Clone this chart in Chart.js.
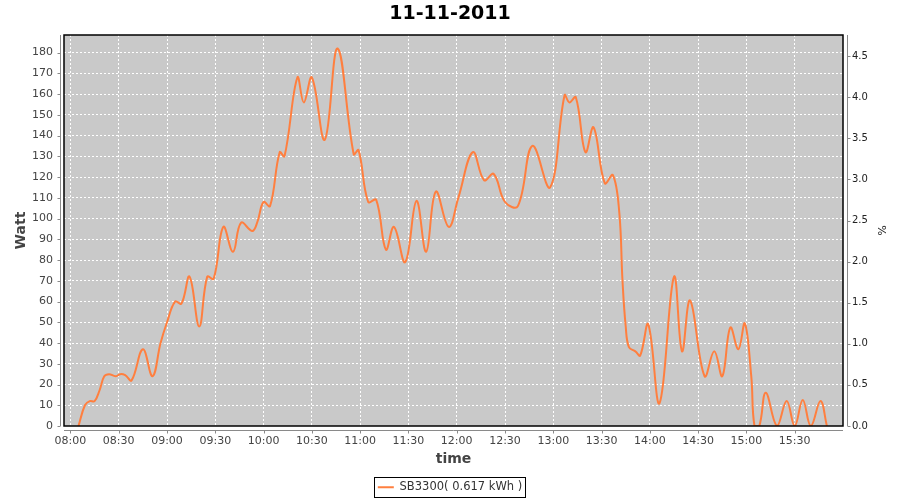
<!DOCTYPE html>
<html>
<head>
<meta charset="utf-8">
<script src="https://cdn.jsdelivr.net/npm/chart.js@4.4.0/dist/chart.umd.min.js"></script>
<style>
  html, body { margin: 0; padding: 0; background: #fff; }
  #wrap { width: 900px; height: 500px; }
</style>
</head>
<body>
<div id="wrap"><canvas id="chart" width="900" height="500"></canvas></div>
<script>
// readings of SB3300 on 11-11-2011
const times = [
    '08:05', '08:09', '08:12', '08:15', '08:18', '08:21', '08:24', '08:28', '08:31', '08:34',
    '08:38', '08:45', '08:51', '08:56', '09:00', '09:05', '09:09', '09:14', '09:20', '09:25',
    '09:29', '09:35', '09:41', '09:46', '09:53', '09:56', '10:00', '10:04', '10:10', '10:13',
    '10:21', '10:25', '10:30', '10:38', '10:46', '10:56', '10:59', '11:05', '11:10', '11:16',
    '11:21', '11:28', '11:35', '11:41', '11:47', '11:55', '12:01', '12:10', '12:17', '12:23',
    '12:30', '12:38', '12:47', '12:58', '13:07', '13:10', '13:14', '13:20', '13:25', '13:32',
    '13:37', '13:41', '13:43', '13:45', '13:47', '13:51', '13:54', '13:59', '14:06', '14:15',
    '14:20', '14:25', '14:34', '14:40', '14:45', '14:50', '14:55', '14:59', '15:03', '15:05',
    '15:08', '15:12', '15:19', '15:25', '15:30', '15:35', '15:40', '15:46', '15:50'
];
const watts = [
    0, 10, 12, 12, 17, 24, 25, 24, 25, 24.5,
    22, 37, 24, 40, 50, 60, 59, 72, 48, 72,
    71, 96, 84, 98, 94, 98, 108, 106, 132, 130,
    168, 156, 168, 138, 182, 131, 133, 108, 109, 85,
    96, 79, 108.5, 84, 113, 96, 110, 132, 118.5, 121.5,
    108, 106, 135, 115, 159.5, 156, 158.5, 132, 144, 117,
    121, 103, 70, 48, 38, 36, 34, 49, 11, 72,
    36, 60.5, 24, 36, 24, 47.5, 37, 49.5, 24, 0,
    0, 16, 0, 12, 0, 12.5, 0, 12, 0
];
const timeTicks = ['08:00', '08:30', '09:00', '09:30', '10:00', '10:30', '11:00', '11:30',
    '12:00', '12:30', '13:00', '13:30', '14:00', '14:30', '15:00', '15:30'];
const wattTicks = [0, 10, 20, 30, 40, 50, 60, 70, 80, 90, 100, 110, 120, 130, 140, 150, 160, 170, 180];
const pctTicks = [0, 0.5, 1, 1.5, 2, 2.5, 3, 3.5, 4, 4.5];
const seriesName = 'SB3300( 0.617 kWh )';

function toMinutes(s) {
    const parts = s.split(':').map(Number);
    return parts[0] * 60 + parts[1];
}

function fmtTime(v) {
    const h = Math.floor(v / 60), m = Math.round(v % 60);
    return String(h).padStart(2, '0') + ':' + String(m).padStart(2, '0');
}

const tickFont = { family: 'DejaVu Sans', size: 11 };
const tickColor = '#444444';
const axisGray = '#8a8a8a';

// plot background, black frame, offset gray axis lines with tick marks, legend frame
const frame = {
    id: 'frame',
    beforeDraw(chart) {
        const { ctx, chartArea: a } = chart;
        ctx.save();
        ctx.fillStyle = '#ffffff';
        ctx.fillRect(0, 0, chart.width, chart.height);
        ctx.fillStyle = '#c9c9c9';
        ctx.fillRect(a.left, a.top, a.right - a.left, a.bottom - a.top);
        ctx.restore();
    },
    afterDatasetsDraw(chart) {
        const { ctx, chartArea: a, scales } = chart;
        ctx.save();
        ctx.strokeStyle = '#000';
        ctx.lineWidth = 1.5;
        ctx.strokeRect(a.left, a.top, a.right - a.left, a.bottom - a.top);

        ctx.strokeStyle = axisGray;
        ctx.lineWidth = 1;
        ctx.beginPath();
        const lx = a.left - 3.5, rx = a.right + 4.5, by = a.bottom + 4.5;
        ctx.moveTo(lx, a.top); ctx.lineTo(lx, a.bottom);
        scales.y.ticks.forEach(t => {
            const y = Math.round(scales.y.getPixelForValue(t.value)) + 0.5;
            ctx.moveTo(lx - 3, y); ctx.lineTo(lx, y);
        });
        ctx.moveTo(rx, a.top); ctx.lineTo(rx, a.bottom);
        scales.y1.ticks.forEach(t => {
            const y = Math.round(scales.y1.getPixelForValue(t.value)) + 0.5;
            ctx.moveTo(rx, y); ctx.lineTo(rx + 3, y);
        });
        ctx.moveTo(a.left, by); ctx.lineTo(a.right, by);
        scales.x.ticks.forEach(t => {
            const x = Math.round(scales.x.getPixelForValue(t.value)) + 0.5;
            ctx.moveTo(x, by); ctx.lineTo(x, by + 3);
        });
        ctx.stroke();
        ctx.restore();
    },
    afterDraw(chart) {
        const hb = chart.legend.legendHitBoxes[0];
        if (!hb) return;
        const ctx = chart.ctx;
        ctx.save();
        ctx.strokeStyle = '#000';
        ctx.lineWidth = 1;
        ctx.strokeRect(Math.round(hb.left) - 3.5, Math.round(hb.top) - 4.5, Math.round(hb.width) + 7, Math.round(hb.height) + 8);
        ctx.restore();
    }
};

new Chart(document.getElementById('chart'), {
    type: 'line',
    data: {
        datasets: [{
            label: seriesName,
            data: times.map((t, i) => ({ x: toMinutes(t), y: watts[i] })),
            borderColor: '#ff7f3f',
            backgroundColor: '#ff7f3f',
            borderWidth: 2,
            pointRadius: 0,
            tension: 0.4,
            fill: false,
            yAxisID: 'y'
        }]
    },
    options: {
        responsive: false,
        animation: false,
        events: [],
        layout: { padding: { left: 0, right: 0, top: 0, bottom: -3 } },
        scales: {
            x: {
                type: 'linear',
                position: 'bottom',
                min: 476,
                max: 960,
                afterBuildTicks: s => { s.ticks = timeTicks.map(l => ({ value: toMinutes(l) })); },
                afterFit: s => { s.height = 51.5; },
                ticks: {
                    callback: v => fmtTime(v),
                    font: tickFont, color: tickColor, padding: 9,
                    maxRotation: 0, autoSkip: false
                },
                grid: { color: '#ffffff', lineWidth: 1, drawTicks: false },
                border: { display: false, dash: [2, 2] },
                title: {
                    display: true, text: 'time', color: tickColor,
                    font: { family: 'DejaVu Sans', size: 14, weight: 'bold' },
                    padding: { top: 0, bottom: 10 }
                }
            },
            y: {
                type: 'linear',
                position: 'left',
                min: 0,
                max: 188.5,
                afterBuildTicks: s => { s.ticks = wattTicks.map(v => ({ value: v })); },
                afterFit: s => { s.width = 64; },
                ticks: { font: tickFont, color: tickColor, padding: 11 },
                grid: { color: '#ffffff', lineWidth: 1, drawTicks: false },
                border: { display: false, dash: [2, 2] },
                title: {
                    display: true, text: 'Watt', color: tickColor,
                    font: { family: 'DejaVu Sans', size: 14, weight: 'bold' },
                    padding: { top: 13, bottom: 0 }
                }
            },
            y1: {
                type: 'linear',
                position: 'right',
                min: 0,
                max: 4.757,
                afterBuildTicks: s => { s.ticks = pctTicks.map(v => ({ value: v })); },
                afterFit: s => { s.width = 57; },
                ticks: {
                    callback: v => v.toFixed(1),
                    font: { family: 'DejaVu Sans', size: 10 }, color: '#222', padding: 9
                },
                grid: { drawOnChartArea: false, drawTicks: false },
                border: { display: false },
                title: {
                    display: true, text: '%', color: '#222',
                    font: { family: 'DejaVu Sans', size: 11 },
                    padding: { top: 13, bottom: 0 }
                }
            }
        },
        plugins: {
            title: {
                display: true,
                text: '11-11-2011',
                color: '#000',
                font: { family: 'DejaVu Sans', size: 19, weight: 'bold' },
                padding: { top: 3, bottom: 9.2 }
            },
            legend: {
                display: true,
                position: 'bottom',
                labels: {
                    usePointStyle: true,
                    pointStyle: 'line',
                    pointStyleWidth: 16,
                    color: '#333',
                    font: { family: 'DejaVu Sans', size: 11.5 },
                    padding: 4
                }
            },
            tooltip: { enabled: false }
        }
    },
    plugins: [frame]
});
</script>
</body>
</html>
